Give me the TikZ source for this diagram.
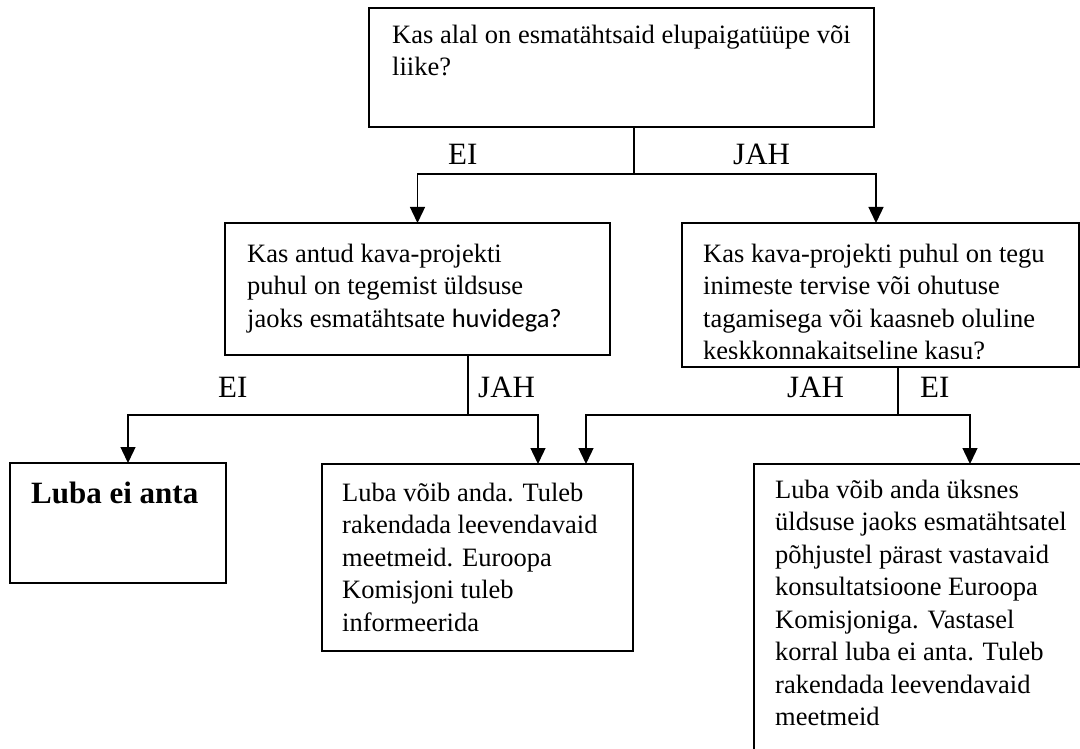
\documentclass[tikz,border=0pt]{standalone}
\usepackage{fontspec}
\setmainfont{Liberation Serif}
\newfontfamily\carlito{Carlito}
\usetikzlibrary{arrows.meta}
\tikzset{
  box/.style={draw, line width=1.4pt, inner sep=0pt, outer sep=0pt},
  txt/.style={anchor=north west, align=left, inner sep=0pt, font=\fontsize{26.5}{32.5}\selectfont},
  lbl/.style={anchor=base west, inner sep=0pt, font=\fontsize{31}{36}\selectfont},
  line/.style={line width=1.4pt},
  arr/.style={line width=1.4pt, -{Triangle[width=15pt,length=16pt]}}
}
\newcommand{\fl}{\rule{0pt}{20pt}}

\begin{document}
\begin{tikzpicture}[x=1pt,y=-1pt]
\useasboundingbox (0,0) rectangle (1080,749);
\clip (0,0) rectangle (1080,749);
% boxes
\node[box, minimum width=505pt, minimum height=119pt] (q1) at (621.5,67.5) {};
\node[box, minimum width=385pt, minimum height=132pt] (q2) at (417.5,289) {};
\node[box, minimum width=397pt, minimum height=144pt] (q3) at (880.5,295) {};
\node[box, minimum width=216pt, minimum height=120pt] (no) at (118,523) {};
\node[box, minimum width=311pt, minimum height=187pt] (mid) at (477.5,557.5) {};
\node[box, minimum width=350pt, minimum height=340pt] (cond) at (929,634) {};
% texts
\node[txt] (t1) at (392,23) {\fl Kas alal on esmatähtsaid elupaigatüüpe või\\liike?};
\node[txt] (t2) at (247,242) {\fl Kas antud kava-projekti\\puhul on tegemist üldsuse\\jaoks esmatähtsate {\carlito huvidega?}};
\begin{scope}
\clip (q3.north west) rectangle ([yshift=9pt]q3.south east);
\node[txt] (t3) at (703,242) {\fl Kas kava-projekti puhul on tegu\\inimeste tervise või ohutuse\\tagamisega või kaasneb oluline\\keskkonnakaitseline kasu?};
\end{scope}
\node[lbl, font=\fontsize{31}{36}\selectfont\bfseries] (t5) at (31,503) {Luba ei anta};
\node[txt] (t4) at (342,481) {\fl Luba võib anda. Tuleb\\rakendada leevendavaid\\meetmeid. Euroopa\\Komisjoni tuleb\\informeerida};
\node[txt] (t6) at (775,478) {\fl Luba võib anda üksnes\\üldsuse jaoks esmatähtsatel\\põhjustel pärast vastavaid\\konsultatsioone Euroopa\\Komisjoniga. Vastasel\\korral luba ei anta. Tuleb\\rakendada leevendavaid\\meetmeid};
% labels
\node[lbl] (ei1) at (448,165) {EI};
\node[lbl] (jah1) at (733,165) {JAH};
\node[lbl] (ei2) at (218,397) {EI};
\node[lbl] (jah2) at (478,397) {JAH};
\node[lbl] (jah3) at (787,397) {JAH};
\node[lbl] (ei3) at (920,397) {EI};
% connectors
\coordinate (s1) at (634,174);
\coordinate (s2) at (468,415);
\coordinate (s3) at (898,415);
\draw[line] (s1 |- q1.south) -- (s1);
\draw[arr] (s1) -| (q2.north);
\draw[arr] (s1) -| ([xshift=-4.5pt]q3.north);
\draw[line] (s2 |- q2.south) -- (s2);
\draw[arr] (s2) -| ([xshift=10pt]no.north);
\draw[arr] (s2) -| ([xshift=216pt]mid.north west);
\draw[line] (s3 |- q3.south) -- (s3);
\draw[arr] (s3) -| ([xshift=264pt]mid.north west);
\draw[arr] (s3) -| ([xshift=216pt]cond.north west);
\end{tikzpicture}
\end{document}
